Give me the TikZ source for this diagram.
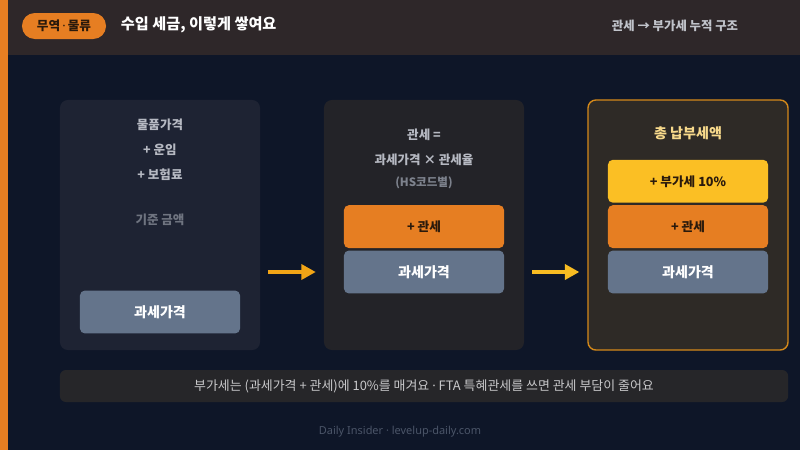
\documentclass[tikz,border=0pt]{standalone}
\usepackage{fontspec}
\setmainfont{Noto Sans CJK KR}
\newfontfamily\latinfont{Noto Sans}
\usetikzlibrary{arrows.meta,positioning}

\definecolor{bgnavy}{HTML}{0E1628}
\definecolor{headbar}{HTML}{2E2729}
\definecolor{accent}{HTML}{E67E22}
\definecolor{slate}{HTML}{64748B}
\definecolor{vatyellow}{HTML}{FBBF24}
\definecolor{darkink}{HTML}{2A1A0C}
\definecolor{paneA}{HTML}{1E2333}
\definecolor{paneB}{HTML}{232328}
\definecolor{paneC}{HTML}{2E2A26}
\definecolor{paneCline}{HTML}{D4891A}
\definecolor{softgray}{HTML}{B6B9C2}
\definecolor{dimgray}{HTML}{6F7480}
\definecolor{goldtext}{HTML}{F7D98B}
\definecolor{notebar}{HTML}{262629}
\definecolor{notetext}{HTML}{C8C8CA}
\definecolor{foottext}{HTML}{4B5568}
\definecolor{arrowA}{HTML}{F2A516}
\definecolor{arrowB}{HTML}{F8BC22}

\newcommand{\mdot}{{\latinfont\,·\,}}

\tikzset{
  panel/.style={rounded corners=0.2cm, minimum width=5cm, minimum height=6.25cm},
  layer/.style={rounded corners=0.12cm, minimum width=4cm, minimum height=1.07cm,
    font=\fontsize{9}{11}\selectfont\bfseries},
  baselayer/.style={layer, fill=slate, text=white, font=\fontsize{10}{12}\selectfont\bfseries},
  taxlayer/.style={layer, fill=accent, text=darkink},
  vatlayer/.style={layer, fill=vatyellow, text=darkink},
  body/.style={font=\fontsize{8.9}{10}\selectfont\bfseries, text=softgray},
  flow/.style={line width=2.2pt, -{Triangle[length=0.36cm,width=0.38cm]},
    shorten <=0.2cm, shorten >=0.2cm},
}

\begin{document}
\begin{tikzpicture}[x=0.025cm, y=-0.025cm]

% 배경과 머리띠
\fill[bgnavy] (0,0) rectangle (800,450);
\fill[headbar] (0,0) rectangle (800,55);
\fill[accent] (0,0) rectangle (8,450);

\node[fill=accent, rounded corners=0.32cm, minimum width=2.1cm, minimum height=0.65cm,
  text=darkink, font=\fontsize{9}{11}\selectfont\bfseries] (badge) at (64,26) {무역\mdot 물류};
\node[anchor=west, text=white, font=\fontsize{10.8}{12}\selectfont\bfseries] (title) at (116,25) {수입 세금, 이렇게 쌓여요};
\node[text=softgray!85, font=\fontsize{8.8}{10}\selectfont\bfseries] (subtitle) at (675,26) {관세 → 부가세 누적 구조};

% 세 단계 패널
\node[panel, fill=paneA] (p1) at (160,225) {};
\node[panel, fill=paneB] (p2) at (424,225) {};
\node[panel, fill=paneC, draw=paneCline, line width=1pt] (p3) at (688,225) {};

% 1단계: 과세가격
\foreach \t [count=\i] in {물품가격, + 운임, + 보험료}
  \node[body] (p1t\i) at (160,100+25*\i) {\t};
\node[body, text=dimgray] (p1base) at (160,220) {기준 금액};
\node[baselayer] (b1base) at (160,312) {과세가격};

% 2단계: 관세
\node[body] (p2t1) at (424,135) {관세 =};
\node[body] (p2t2) at (424,160) {과세가격 × 관세율};
\node[font=\fontsize{8.2}{9}\selectfont\bfseries, text=dimgray!90!white] (p2t3) at (424,183) {(HS코드별)};
\node[baselayer] (b2base) at (424,272) {과세가격};
\node[taxlayer, above=0.05cm of b2base] (b2tax) {+ 관세};

% 3단계: 총 납부세액
\node[font=\fontsize{10}{11}\selectfont\bfseries, text=goldtext] (p3t) at (688,133) {총 납부세액};
\node[baselayer] (b3base) at (688,272) {과세가격};
\node[taxlayer, above=0.05cm of b3base] (b3tax) {+ 관세};
\node[vatlayer, above=0.05cm of b3tax] (b3vat) {+ 부가세 10\%};

% 화살표
\draw[flow, arrowA] (p1.east |- b2base) -- (p2.west |- b2base);
\draw[flow, arrowB] (p2.east |- b3base) -- (p3.west |- b3base);

% 아래 설명
\node[fill=notebar, rounded corners=0.15cm, minimum width=18.2cm, minimum height=0.8cm,
  text=notetext, font=\fontsize{9.2}{10}\selectfont] (note) at (424,386)
  {부가세는 (과세가격 + 관세)에 10\%를 매겨요 {\latinfont ·} FTA 특혜관세를 쓰면 관세 부담이 줄어요};
\node[text=foottext, font=\latinfont\fontsize{7.8}{9}\selectfont] (footer) at (400,432) {Daily Insider · levelup-daily.com};

\end{tikzpicture}
\end{document}
